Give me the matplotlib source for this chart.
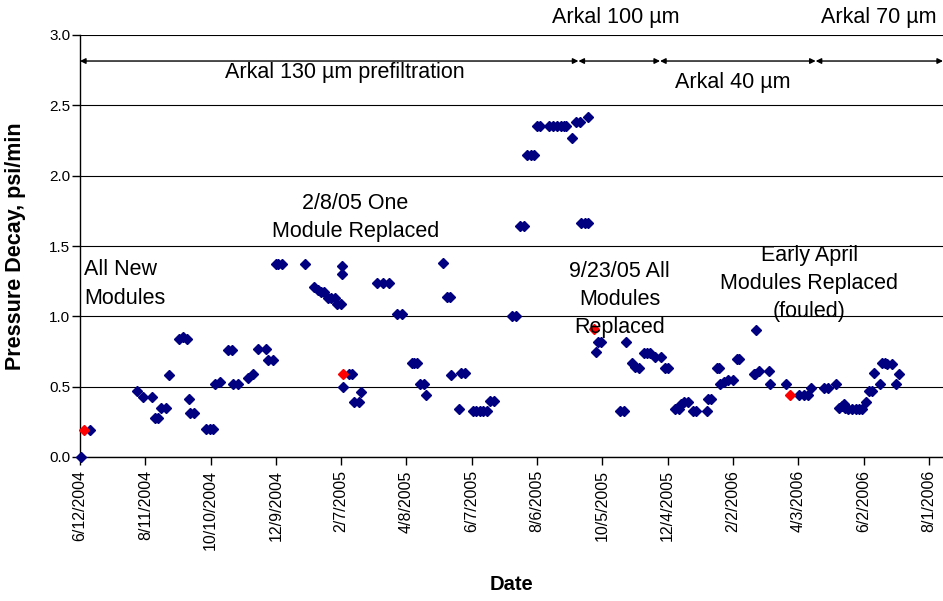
import matplotlib
matplotlib.use('Agg')
import matplotlib.pyplot as plt
import numpy as np
import pandas as pd

plt.rcParams['font.family'] = ['Liberation Sans', 'DejaVu Sans']

# pressure decay readings (psi/min)
dates = [
    '2004-06-13', '2004-06-21', '2004-08-03', '2004-08-09', '2004-08-17', '2004-08-20',
    '2004-08-23', '2004-08-25', '2004-08-30', '2004-09-02', '2004-09-11', '2004-09-15',
    '2004-09-18', '2004-09-20', '2004-09-21', '2004-09-25', '2004-10-06', '2004-10-09',
    '2004-10-12', '2004-10-14', '2004-10-19', '2004-10-26', '2004-10-30', '2004-10-31',
    '2004-11-04', '2004-11-13', '2004-11-18', '2004-11-23', '2004-11-30', '2004-12-02',
    '2004-12-06', '2004-12-09', '2004-12-11', '2004-12-15', '2005-01-05', '2005-01-13',
    '2005-01-17', '2005-01-19', '2005-01-22', '2005-01-26', '2005-01-29', '2005-02-01',
    '2005-02-03', '2005-02-07', '2005-02-08', '2005-02-08', '2005-02-09', '2005-02-14',
    '2005-02-17', '2005-02-19', '2005-02-23', '2005-02-25', '2005-03-12', '2005-03-17',
    '2005-03-23', '2005-03-30', '2005-04-04', '2005-04-13', '2005-04-15', '2005-04-18',
    '2005-04-20', '2005-04-24', '2005-04-26', '2005-05-12', '2005-05-15', '2005-05-18',
    '2005-05-19', '2005-05-26', '2005-05-28', '2005-06-01', '2005-06-08', '2005-06-11',
    '2005-06-15', '2005-06-17', '2005-06-21', '2005-06-24', '2005-06-27', '2005-07-14',
    '2005-07-18', '2005-07-21', '2005-07-25', '2005-07-28', '2005-07-31', '2005-08-03',
    '2005-08-06', '2005-08-09', '2005-08-17', '2005-08-21', '2005-08-24', '2005-08-28',
    '2005-08-31', '2005-09-02', '2005-09-07', '2005-09-11', '2005-09-14', '2005-09-15',
    '2005-09-19', '2005-09-22', '2005-09-22', '2005-09-29', '2005-10-01', '2005-10-04',
    '2005-10-21', '2005-10-25', '2005-10-27', '2005-11-01', '2005-11-04', '2005-11-08',
    '2005-11-12', '2005-11-15', '2005-11-18', '2005-11-22', '2005-11-28', '2005-12-02',
    '2005-12-04', '2005-12-11', '2005-12-14', '2005-12-16', '2005-12-19', '2005-12-23',
    '2005-12-27', '2005-12-30', '2006-01-09', '2006-01-10', '2006-01-13', '2006-01-18',
    '2006-01-20', '2006-01-21', '2006-01-25', '2006-01-28', '2006-02-02', '2006-02-06',
    '2006-02-08', '2006-02-21', '2006-02-22', '2006-02-23', '2006-02-26', '2006-03-07',
    '2006-03-08', '2006-03-23', '2006-04-04', '2006-04-08', '2006-04-12', '2006-04-15',
    '2006-04-27', '2006-04-30', '2006-05-08', '2006-05-10', '2006-05-13', '2006-05-15',
    '2006-05-16', '2006-05-19', '2006-05-22', '2006-05-26', '2006-05-29', '2006-06-01',
    '2006-06-04', '2006-06-07', '2006-06-10', '2006-06-12', '2006-06-17', '2006-06-19',
    '2006-06-22', '2006-06-24', '2006-06-28', '2006-07-02', '2006-07-05',
]
decay = [
    0.00, 0.19, 0.47, 0.43, 0.43, 0.28,
    0.28, 0.35, 0.35, 0.58, 0.84, 0.85,
    0.84, 0.41, 0.31, 0.31, 0.20, 0.20,
    0.20, 0.52, 0.53, 0.76, 0.76, 0.52,
    0.52, 0.56, 0.59, 0.77, 0.77, 0.69,
    0.69, 1.37, 1.37, 1.37, 1.37, 1.21,
    1.19, 1.17, 1.17, 1.13, 1.13, 1.13,
    1.09, 1.09, 1.36, 1.30, 0.50, 0.59,
    0.59, 0.39, 0.39, 0.46, 1.24, 1.24,
    1.24, 1.02, 1.02, 0.67, 0.67, 0.67,
    0.52, 0.52, 0.44, 1.38, 1.14, 1.14,
    0.58, 0.34, 0.60, 0.60, 0.33, 0.33,
    0.33, 0.33, 0.33, 0.40, 0.40, 1.00,
    1.00, 1.64, 1.64, 2.15, 2.15, 2.15,
    2.35, 2.35, 2.35, 2.35, 2.35, 2.35,
    2.35, 2.35, 2.27, 2.38, 2.38, 1.66,
    1.66, 1.66, 2.42, 0.75, 0.82, 0.82,
    0.33, 0.33, 0.82, 0.67, 0.64, 0.63,
    0.74, 0.74, 0.74, 0.71, 0.71, 0.63,
    0.63, 0.34, 0.34, 0.38, 0.39, 0.39,
    0.33, 0.33, 0.33, 0.41, 0.41, 0.63,
    0.63, 0.52, 0.53, 0.55, 0.55, 0.70,
    0.70, 0.59, 0.59, 0.90, 0.61, 0.61,
    0.52, 0.52, 0.44, 0.44, 0.44, 0.49,
    0.49, 0.49, 0.52, 0.35, 0.36, 0.38,
    0.35, 0.34, 0.34, 0.34, 0.34, 0.34,
    0.39, 0.47, 0.47, 0.60, 0.52, 0.67,
    0.67, 0.66, 0.66, 0.52, 0.59,
]

# readings taken right after module changes
event_dates = ['2004-06-16', '2005-02-09', '2005-09-27', '2006-03-26']
event_decay = [0.19, 0.59, 0.91, 0.44]

# prefilter periods shown along the top
filter_bounds = ['2004-06-12', '2005-09-13', '2005-11-27', '2006-04-19', '2006-08-14']

start = pd.Timestamp('2004-06-12')
end = pd.Timestamp('2006-08-14')
tick_dates = pd.date_range(start, periods=14, freq='60D')
tick_labels = [f'{d.month}/{d.day}/{d.year}' for d in tick_dates]

fig = plt.figure(figsize=(9.43, 6.01), dpi=100)
ax = fig.add_axes([80/943, 144/601, 863/943, 422/601])

ax.plot(pd.to_datetime(dates), decay, linestyle='none', marker='D', ms=5.3,
        color='#000080', mec='#000080', zorder=3, clip_on=False)
ax.plot(pd.to_datetime(event_dates), event_decay, linestyle='none', marker='D', ms=5.3,
        color='#ff0000', mec='#ff0000', zorder=4, clip_on=False)

ax.set_xlim(start, end)
ax.set_ylim(0, 3.0)
ax.set_yticks(np.arange(0, 3.01, 0.5))
ax.set_yticklabels([f'{v:.1f}' for v in np.arange(0, 3.01, 0.5)], fontsize=11)
ax.set_xticks(tick_dates)
ax.set_xticklabels(tick_labels, rotation=90, fontsize=11.5)
ax.yaxis.grid(True, color='black', lw=0.8)
ax.set_axisbelow(True)
ax.tick_params(axis='both', direction='out', length=6, width=1, color='black')
ax.tick_params(axis='y', pad=1)
for s in ['top', 'right']:
    ax.spines[s].set_visible(False)
for s in ['left', 'bottom']:
    ax.spines[s].set_linewidth(1)

ax.set_ylabel('Pressure Decay, psi/min', fontsize=15.5, fontweight='bold')
ax.yaxis.set_label_coords(-0.062, 0.5)
ax.set_xlabel('Date', fontsize=14.5, fontweight='bold', labelpad=18)

# filter period arrows
bounds = pd.to_datetime(filter_bounds)
for a, b in zip(bounds[:-1], bounds[1:]):
    ax.annotate('', xy=(b, 2.815), xytext=(a, 2.815),
                arrowprops=dict(arrowstyle='<|-|>', color='black', lw=1,
                                mutation_scale=8, shrinkA=0, shrinkB=0),
                annotation_clip=False)

fs = 15.5
ls = 1.45
ax.text(pd.Timestamp('2005-10-17'), 3.127, 'Arkal 100 µm', fontsize=fs, ha='center', va='center', clip_on=False)
ax.text(pd.Timestamp('2006-06-16'), 3.127, 'Arkal 70 µm', fontsize=fs, ha='center', va='center', clip_on=False)
ax.text(pd.Timestamp('2005-02-10'), 2.73, 'Arkal 130 µm prefiltration', fontsize=fs, ha='center', va='center')
ax.text(pd.Timestamp('2006-02-02'), 2.66, 'Arkal 40 µm', fontsize=fs, ha='center', va='center')
ax.text(pd.Timestamp('2005-02-20'), 1.70, '2/8/05 One\nModule Replaced', fontsize=fs,
        ha='center', va='center', multialignment='center', linespacing=ls, zorder=5)
ax.text(pd.Timestamp('2004-06-16'), 1.23, 'All New\nModules', fontsize=fs,
        ha='left', va='center', linespacing=ls, zorder=5)
ax.text(pd.Timestamp('2005-10-21'), 1.12, '9/23/05 All\nModules\nReplaced', fontsize=fs,
        ha='center', va='center', multialignment='center', linespacing=ls, zorder=5)
ax.text(pd.Timestamp('2006-04-13'), 1.235, 'Early April\nModules Replaced\n(fouled)', fontsize=fs,
        ha='center', va='center', multialignment='center', linespacing=ls, zorder=5)

fig.savefig('out.png', dpi=100)
